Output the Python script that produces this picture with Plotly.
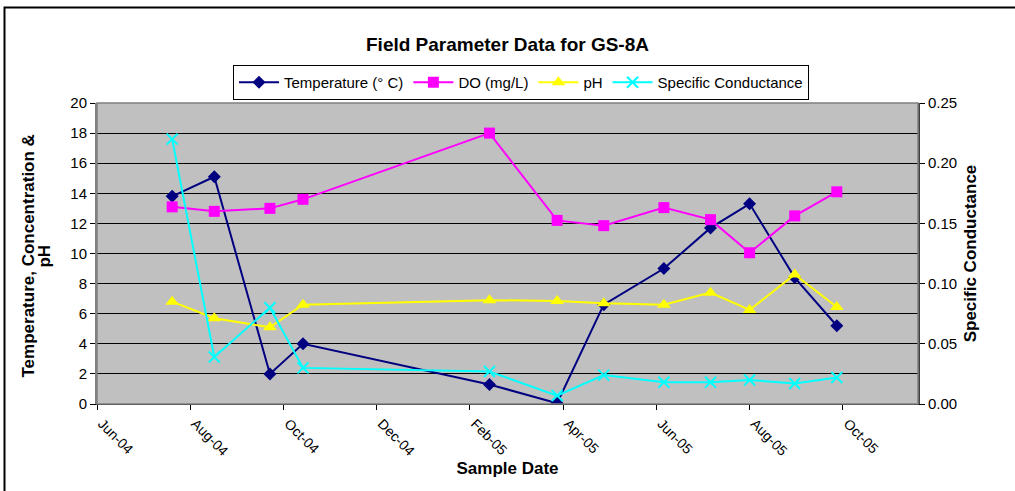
import plotly.graph_objects as go

# ---- data ----
sample_dates = ["2004-07-21", "2004-08-18", "2004-09-24", "2004-10-16", "2005-02-17",
                "2005-04-03", "2005-05-04", "2005-06-13", "2005-07-14", "2005-08-09",
                "2005-09-08", "2005-10-06"]
temperature = [13.8, 15.1, 2.0, 4.0, 1.3, 0.05, 6.6, 9.0, 11.7, 13.3, 8.4, 5.2]
dissolved_oxygen = [13.1, 12.8, 13.0, 13.6, 18.0, 12.2, 11.85, 13.05, 12.25, 10.05, 12.5, 14.1]
ph = [6.8, 5.7, 5.1, 6.6, 6.9, 6.85, 6.7, 6.6, 7.4, 6.25, 8.6, 6.45]
specific_conductance = [0.220, 0.039, 0.080, 0.030, 0.027, 0.007, 0.024, 0.018, 0.018,
                        0.020, 0.017, 0.022]

tick_dates = ["2004-06-01", "2004-08-02", "2004-10-03", "2004-12-04", "2005-02-04",
              "2005-04-07", "2005-06-08", "2005-08-09", "2005-10-10"]
tick_labels = ["Jun-04", "Aug-04", "Oct-04", "Dec-04", "Feb-05", "Apr-05", "Jun-05",
               "Aug-05", "Oct-05"]
x_range = ["2004-06-01", "2005-11-29"]

FONT = "Liberation Sans, Arial, sans-serif"

PW, PH = 821, 301          # plot area size in px
L, T = 97, 103             # plot area top-left corner in px

fig = go.Figure()
fig.add_trace(go.Scatter(
    x=sample_dates, y=temperature, name="Temperature (° C)", mode="lines+markers",
    line=dict(color="#000080", width=2),
    marker=dict(symbol="diamond", size=10, color="#000080")))
fig.add_trace(go.Scatter(
    x=sample_dates, y=dissolved_oxygen, name="DO (mg/L)", mode="lines+markers",
    line=dict(color="#FF00FF", width=2),
    marker=dict(symbol="square", size=11, color="#FF00FF")))
fig.add_trace(go.Scatter(
    x=sample_dates, y=ph, name="pH", mode="lines+markers",
    line=dict(color="#FFFF00", width=2),
    marker=dict(symbol="triangle-up", size=12, color="#FFFF00")))
fig.add_trace(go.Scatter(
    x=sample_dates, y=specific_conductance, name="Specific Conductance",
    mode="lines+markers", yaxis="y2",
    line=dict(color="#00FFFF", width=2),
    marker=dict(symbol="x-thin", size=11, color="#00FFFF",
                line=dict(color="#00FFFF", width=2))))

fig.update_layout(
    width=1015, height=491,
    margin=dict(l=L, r=1015 - L - PW, t=T, b=491 - T - PH, autoexpand=False),
    paper_bgcolor="white", plot_bgcolor="#C0C0C0",
    font=dict(family=FONT, size=15, color="black"),
    title=dict(text="<b>Field Parameter Data for GS-8A</b>",
               font=dict(size=19, family=FONT, color="black"),
               x=0.5, xanchor="center", xref="container",
               y=1 - 44 / 491, yanchor="middle", yref="container"),
    showlegend=True,
    legend=dict(orientation="h", x=(521 - L) / PW, xanchor="center",
                y=(T + PH - 65) / PH, yanchor="top",
                bordercolor="black", borderwidth=1, bgcolor="white",
                font=dict(size=15, family=FONT, color="black"),
                itemwidth=40, tracegroupgap=0),
    xaxis=dict(type="date", range=x_range, tickmode="array",
               tickvals=tick_dates, ticktext=tick_labels, tickangle=45,
               tickfont=dict(size=14), ticks="outside", ticklen=5,
               ticklabelshift=5,
               tickcolor="black", showgrid=False, zeroline=False,
               showline=True, linecolor="black", linewidth=1,
               title=dict(text="<b>Sample Date</b>", font=dict(size=17),
                          standoff=4),
               automargin=False),
    yaxis=dict(range=[0, 20], dtick=2, tick0=0, ticks="outside", ticklen=5,
               tickcolor="black", showgrid=True, gridcolor="black", gridwidth=1,
               zeroline=False, showline=True, linecolor="#808080", linewidth=2,
               automargin=False),
    yaxis2=dict(range=[0, 0.25], dtick=0.05, tick0=0, tickformat=".2f",
                overlaying="y", side="right", ticks="outside", ticklen=5,
                tickcolor="black", showgrid=False, zeroline=False,
                showline=True, linecolor="#404040", linewidth=2,
                title=dict(text="<b>Specific Conductance</b>", font=dict(size=17),
                           standoff=8),
                automargin=False),
)

# left axis title (two lines, tight spacing as in the reference)
fig.add_annotation(text="<b>Temperature, Concentration &</b>", textangle=-90,
                   xref="paper", yref="paper", x=(29 - L) / PW, y=0.49,
                   xanchor="center", yanchor="middle", showarrow=False,
                   font=dict(size=17, family=FONT, color="black"))
fig.add_annotation(text="<b>pH</b>", textangle=-90,
                   xref="paper", yref="paper", x=(45 - L) / PW, y=0.49,
                   xanchor="center", yanchor="middle", showarrow=False,
                   font=dict(size=17, family=FONT, color="black"))

# plot-area outline and outer chart border
fig.add_shape(type="rect", xref="paper", yref="paper", x0=0, x1=1, y0=0, y1=1,
              line=dict(color="#808080", width=1.5), layer="above")
fig.add_shape(type="rect", xref="paper", yref="paper",
              x0=(4.5 - L) / PW, x1=(1030 - L) / PW,
              y0=(T + PH - 505) / PH, y1=(T + PH - 7.5) / PH,
              line=dict(color="black", width=2), layer="below")

# remove the default 8px page margin so the figure sits at the window origin
fig.write_html("out.html",
               config={"displayModeBar": False},
               post_script="document.body.style.margin='0';document.body.style.overflow='hidden';")
